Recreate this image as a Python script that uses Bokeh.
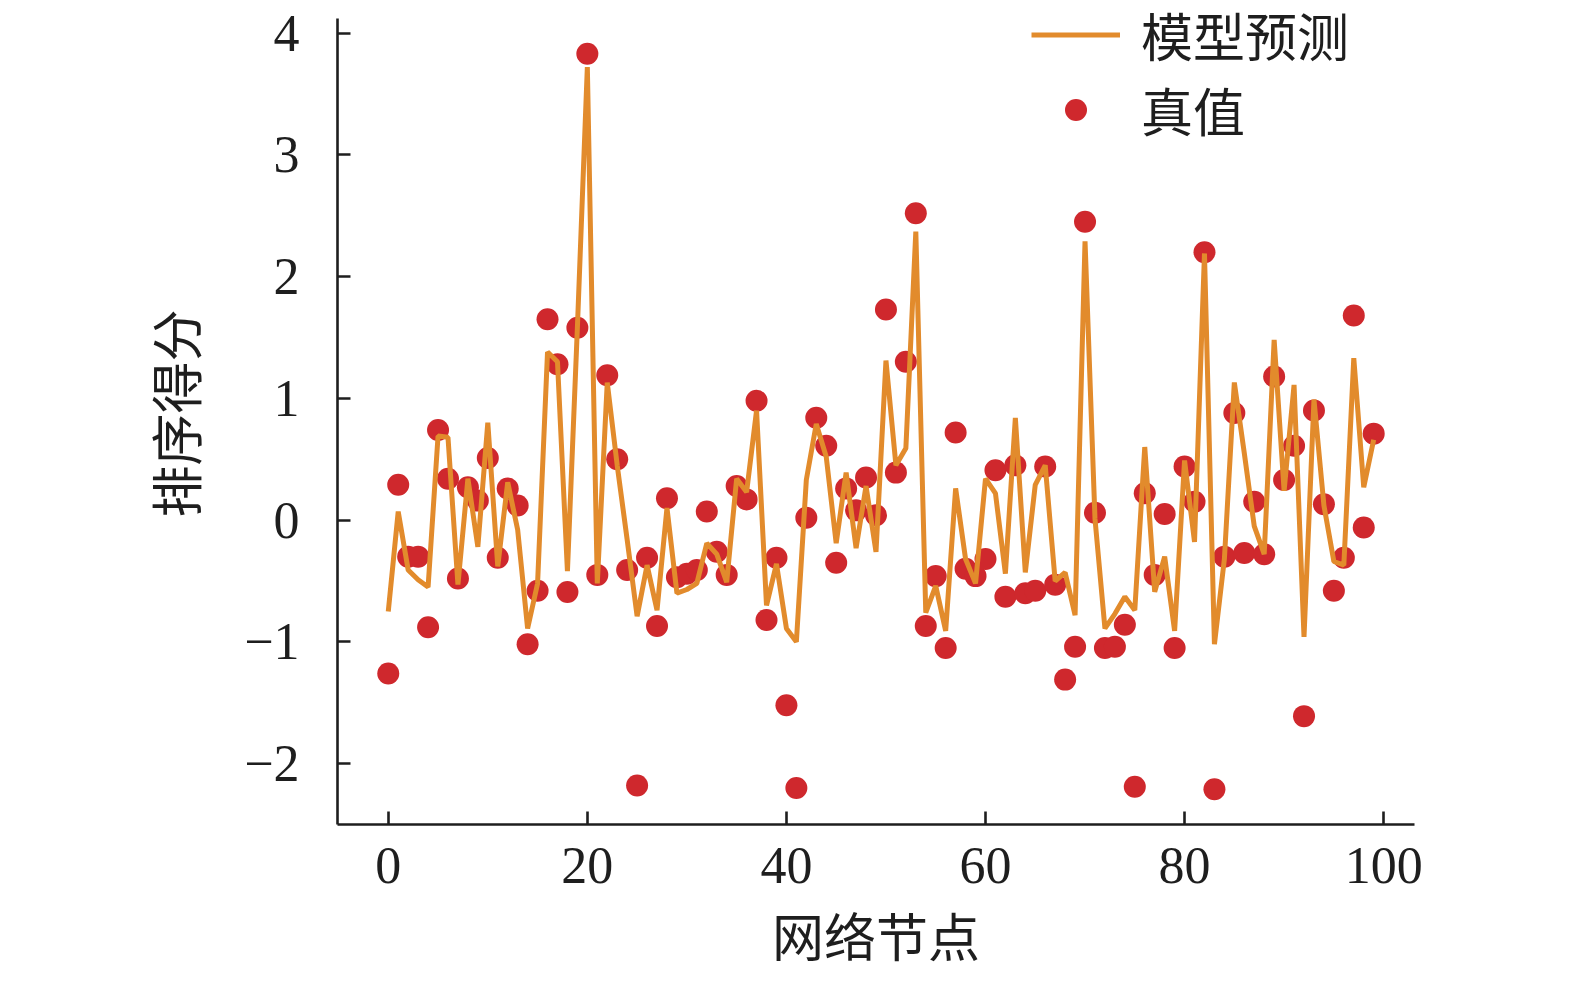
from bokeh.plotting import figure
from bokeh.models import Range1d, Legend, LegendItem, FixedTicker, ColumnDataSource
from bokeh.core.properties import value
from bokeh.embed import file_html
from bokeh.resources import INLINE

nodes = list(range(100))

true_vals = [
    -1.26, 0.29, -0.30, -0.30, -0.88, 0.74, 0.34, -0.48, 0.27, 0.16,
    0.51, -0.31, 0.26, 0.12, -1.02, -0.58, 1.65, 1.28, -0.59, 1.58,
    3.83, -0.45, 1.19, 0.50, -0.41, -2.18, -0.31, -0.87, 0.18, -0.47,
    -0.44, -0.41, 0.07, -0.26, -0.45, 0.28, 0.17, 0.98, -0.82, -0.31,
    -1.52, -2.20, 0.02, 0.84, 0.61, -0.35, 0.26, 0.08, 0.35, 0.04,
    1.73, 0.39, 1.30, 2.52, -0.87, -0.46, -1.05, 0.72, -0.40, -0.46,
    -0.32, 0.41, -0.63, 0.45, -0.60, -0.58, 0.44, -0.53, -1.31, -1.04,
    2.45, 0.06, -1.05, -1.04, -0.86, -2.19, 0.22, -0.45, 0.05, -1.05,
    0.44, 0.15, 2.20, -2.21, -0.30, 0.88, -0.27, 0.15, -0.28, 1.18,
    0.33, 0.61, -1.61, 0.90, 0.13, -0.58, -0.31, 1.68, -0.06, 0.71,
]

pred_vals = [
    -0.75, 0.07, -0.41, -0.49, -0.55, 0.69, 0.68, -0.53, 0.34, -0.22,
    0.80, -0.38, 0.31, -0.08, -0.89, -0.52, 1.38, 1.30, -0.42, 1.58,
    3.72, -0.52, 1.13, 0.45, -0.16, -0.79, -0.37, -0.74, 0.10, -0.60,
    -0.57, -0.52, -0.19, -0.28, -0.51, 0.34, 0.23, 0.90, -0.70, -0.36,
    -0.89, -1.00, 0.33, 0.79, 0.52, -0.19, 0.39, -0.23, 0.28, -0.26,
    1.31, 0.45, 0.59, 2.37, -0.76, -0.54, -0.91, 0.26, -0.32, -0.52,
    0.34, 0.22, -0.44, 0.84, -0.43, 0.29, 0.45, -0.50, -0.43, -0.78,
    2.29, 0.01, -0.89, -0.77, -0.63, -0.74, 0.60, -0.59, -0.30, -0.91,
    0.49, -0.18, 2.19, -1.02, -0.32, 1.13, 0.55, -0.05, -0.28, 1.48,
    0.24, 1.11, -0.96, 0.99, 0.12, -0.34, -0.37, 1.33, 0.27, 0.66,
]

x_ticks = [0, 20, 40, 60, 80, 100]
y_ticks = [-2, -1, 0, 1, 2, 3, 4]
y_tick_labels = {-2: "\u22122", -1: "\u22121", 0: "0", 1: "1", 2: "2", 3: "3", 4: "4"}

series_names = ["模型预测", "真值"]
x_title = "网络节点"
y_title = "排序得分"

ORANGE = "#E28B2C"
RED = "#CF282D"
INK = "#1e1e1e"
NUM_FONT = "Liberation Serif"
CJK_FONT = "Noto Sans CJK SC"

src = ColumnDataSource(data=dict(x=nodes, true=true_vals, pred=pred_vals))

W, H = 1572, 981
p = figure(
    width=W, height=H,
    output_backend="svg", toolbar_location=None,
    x_range=Range1d(-5.1, 103.1), y_range=Range1d(-2.50, 4.251),
    min_border_left=337, min_border_right=W - 1414,
    min_border_top=2, min_border_bottom=H - 824,
)
p.outline_line_color = None
p.xgrid.visible = False
p.ygrid.visible = False
p.background_fill_color = "white"
p.border_fill_color = "white"

r_dot = p.scatter(x="x", y="true", source=src, size=22, fill_color=RED, line_color=None)
r_line = p.line(x="x", y="pred", source=src, line_color=ORANGE, line_width=5)

for ax in (p.xaxis[0], p.yaxis[0]):
    ax.axis_line_color = INK
    ax.axis_line_width = 2.6
    ax.major_tick_line_color = INK
    ax.major_tick_line_width = 2.6
    ax.major_tick_in = 13
    ax.major_tick_out = 0
    ax.minor_tick_line_color = None
    ax.major_label_text_font = NUM_FONT
    ax.major_label_text_font_size = "52px"
    ax.major_label_text_color = INK
    ax.axis_label_text_font = CJK_FONT
    ax.axis_label_text_font_size = "52px"
    ax.axis_label_text_font_style = "normal"
    ax.axis_label_text_color = INK

p.xaxis.ticker = FixedTicker(ticks=x_ticks)
p.yaxis.ticker = FixedTicker(ticks=y_ticks)
p.yaxis.bounds = (-2.50, 4.12)
p.yaxis.major_label_overrides = y_tick_labels
p.xaxis.axis_label = x_title
p.yaxis.axis_label = y_title
p.xaxis.major_label_standoff = 23
p.xaxis.axis_label_standoff = 11
p.yaxis.major_label_standoff = 38
p.yaxis.axis_label_standoff = 29

legend = Legend(
    items=[
        LegendItem(label=value(series_names[0]), renderers=[r_line]),
        LegendItem(label=value(series_names[1]), renderers=[r_dot]),
    ],
    location=(694, 677),
    glyph_width=89, glyph_height=55,
    label_height=55, label_standoff=21, spacing=-7,
    padding=0, margin=0,
    border_line_color=None, background_fill_alpha=0,
    label_text_font=CJK_FONT, label_text_font_size="52px",
    label_text_color=INK,
)
p.add_layout(legend)

open("out.html", "w").write(file_html(p, INLINE))
